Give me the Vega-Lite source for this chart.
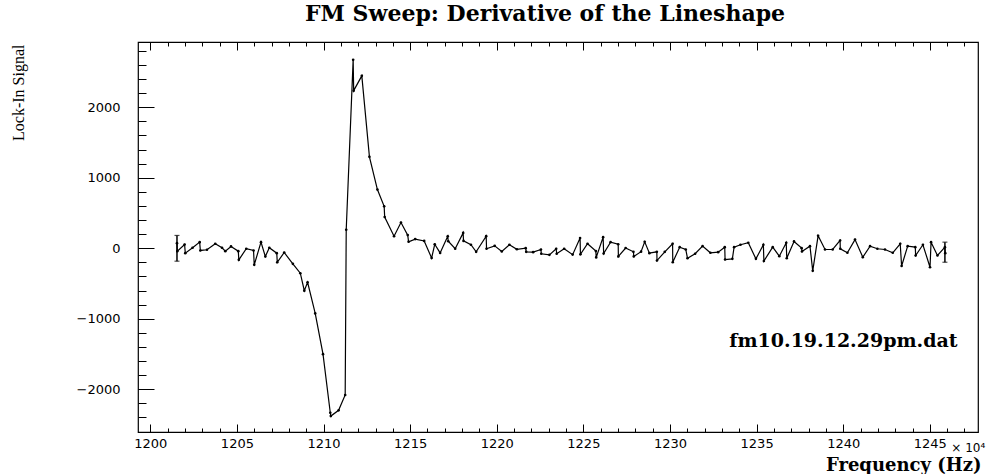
{
  "$schema": "https://vega.github.io/schema/vega-lite/v6.json",
  "width": 840,
  "height": 390,
  "autosize": {"type": "none"},
  "padding": {"left": 138, "top": 42, "right": 8, "bottom": 42},
  "background": "white",
  "title": {"text": "FM Sweep: Derivative of the Lineshape", "font": "DejaVu Serif", "fontSize": 22, "fontWeight": "bold", "color": "black", "anchor": "middle", "offset": 16, "dx": -13},
  "config": {
    "view": {"stroke": "black", "strokeWidth": 1.2},
    "axis": {"grid": false, "domain": false, "tickColor": "black", "tickWidth": 1, "labelColor": "black", "labelFont": "DejaVu Sans", "labelFontSize": 13, "titleColor": "black", "labelOverlap": false, "labelFlush": false, "format": "d"}
  },
  "datasets": {
    "d": [
      {"f": 1201.54, "s": 73, "lo": -183, "hi": 182},
      {"f": 1201.56, "s": -41},
      {"f": 1201.98, "s": 54},
      {"f": 1202.02, "s": -69},
      {"f": 1202.44, "s": 7},
      {"f": 1202.85, "s": 87},
      {"f": 1202.89, "s": -31},
      {"f": 1203.27, "s": -21},
      {"f": 1203.75, "s": 64},
      {"f": 1204.14, "s": 7},
      {"f": 1204.33, "s": -41},
      {"f": 1204.66, "s": 26},
      {"f": 1205.08, "s": -41},
      {"f": 1205.11, "s": -164},
      {"f": 1205.54, "s": -7},
      {"f": 1205.96, "s": -31},
      {"f": 1206.00, "s": -235},
      {"f": 1206.39, "s": 87},
      {"f": 1206.64, "s": -117},
      {"f": 1206.87, "s": 7},
      {"f": 1207.30, "s": -69},
      {"f": 1207.33, "s": -198},
      {"f": 1207.73, "s": -60},
      {"f": 1208.23, "s": -221},
      {"f": 1208.66, "s": -354},
      {"f": 1208.89, "s": -601},
      {"f": 1209.08, "s": -483},
      {"f": 1209.52, "s": -924},
      {"f": 1209.97, "s": -1502},
      {"f": 1210.39, "s": -2333},
      {"f": 1210.42, "s": -2380},
      {"f": 1210.87, "s": -2299},
      {"f": 1211.25, "s": -2081},
      {"f": 1211.31, "s": 263},
      {"f": 1211.71, "s": 2673},
      {"f": 1211.74, "s": 2236},
      {"f": 1212.21, "s": 2446},
      {"f": 1212.65, "s": 1297},
      {"f": 1213.11, "s": 833},
      {"f": 1213.50, "s": 595},
      {"f": 1213.53, "s": 443},
      {"f": 1214.07, "s": 172},
      {"f": 1214.47, "s": 365},
      {"f": 1214.86, "s": 187},
      {"f": 1214.91, "s": 92},
      {"f": 1215.29, "s": 130},
      {"f": 1215.81, "s": 104},
      {"f": 1216.24, "s": -138},
      {"f": 1216.42, "s": 57},
      {"f": 1216.73, "s": -66},
      {"f": 1217.17, "s": 170},
      {"f": 1217.20, "s": 100},
      {"f": 1217.60, "s": -7},
      {"f": 1218.06, "s": 218},
      {"f": 1218.08, "s": 105},
      {"f": 1218.51, "s": 50},
      {"f": 1218.81, "s": -50},
      {"f": 1219.39, "s": 172},
      {"f": 1219.41, "s": -7},
      {"f": 1219.88, "s": 35},
      {"f": 1220.29, "s": -45},
      {"f": 1220.73, "s": 50},
      {"f": 1221.16, "s": -14},
      {"f": 1221.67, "s": 2},
      {"f": 1221.70, "s": -50},
      {"f": 1222.10, "s": -55},
      {"f": 1222.55, "s": -17},
      {"f": 1222.57, "s": -78},
      {"f": 1223.04, "s": -93},
      {"f": 1223.43, "s": -7},
      {"f": 1223.46, "s": -78},
      {"f": 1223.89, "s": -7},
      {"f": 1224.38, "s": -90},
      {"f": 1224.81, "s": 146},
      {"f": 1224.83, "s": -85},
      {"f": 1225.24, "s": 64},
      {"f": 1225.72, "s": -40},
      {"f": 1225.74, "s": -130},
      {"f": 1226.14, "s": 158},
      {"f": 1226.17, "s": -74},
      {"f": 1226.57, "s": 87},
      {"f": 1227.01, "s": 57},
      {"f": 1227.02, "s": -115},
      {"f": 1227.44, "s": 4},
      {"f": 1227.89, "s": -50},
      {"f": 1227.91, "s": -115},
      {"f": 1228.33, "s": -48},
      {"f": 1228.54, "s": 92},
      {"f": 1228.81, "s": -69},
      {"f": 1229.24, "s": -50},
      {"f": 1229.25, "s": -174},
      {"f": 1229.70, "s": -50},
      {"f": 1230.15, "s": 64},
      {"f": 1230.16, "s": -198},
      {"f": 1230.56, "s": 16},
      {"f": 1230.91, "s": -17},
      {"f": 1231.01, "s": -141},
      {"f": 1231.45, "s": -78},
      {"f": 1231.88, "s": 30},
      {"f": 1232.33, "s": -64},
      {"f": 1232.78, "s": -55},
      {"f": 1233.16, "s": 16},
      {"f": 1233.18, "s": -159},
      {"f": 1233.60, "s": -150},
      {"f": 1233.70, "s": 16},
      {"f": 1234.07, "s": 50},
      {"f": 1234.52, "s": 78},
      {"f": 1234.96, "s": -150},
      {"f": 1235.39, "s": 50},
      {"f": 1235.42, "s": -180},
      {"f": 1235.93, "s": 16},
      {"f": 1236.31, "s": -112},
      {"f": 1236.71, "s": 78},
      {"f": 1236.74, "s": -141},
      {"f": 1237.16, "s": 97},
      {"f": 1237.60, "s": 2},
      {"f": 1237.62, "s": -45},
      {"f": 1238.08, "s": 30},
      {"f": 1238.24, "s": -320},
      {"f": 1238.55, "s": 177},
      {"f": 1238.95, "s": -17},
      {"f": 1239.39, "s": -17},
      {"f": 1239.82, "s": 111},
      {"f": 1239.83, "s": -7},
      {"f": 1240.24, "s": -64},
      {"f": 1240.68, "s": 123},
      {"f": 1241.13, "s": -126},
      {"f": 1241.55, "s": 30},
      {"f": 1241.97, "s": -7},
      {"f": 1242.41, "s": -17},
      {"f": 1242.86, "s": -64},
      {"f": 1243.29, "s": 64},
      {"f": 1243.37, "s": -252},
      {"f": 1243.72, "s": 30},
      {"f": 1244.16, "s": 16},
      {"f": 1244.18, "s": -102},
      {"f": 1244.60, "s": 50},
      {"f": 1245.01, "s": -269},
      {"f": 1245.07, "s": 87},
      {"f": 1245.44, "s": -102},
      {"f": 1245.87, "s": 16, "lo": -198, "hi": 87},
      {"f": 1245.89, "s": -69}
    ]
  },
  "data": {"name": "d"},
  "layer": [
    {
      "mark": {"type": "line", "color": "black", "strokeWidth": 1.2},
      "encoding": {
        "x": {"field": "f", "type": "quantitative", "scale": {"domain": [1199.29, 1247.78], "nice": false, "zero": false},
          "axis": {"orient": "bottom", "values": [1200, 1205, 1210, 1215, 1220, 1225, 1230, 1235, 1240, 1245], "tickSize": -8, "labelPadding": 13,
            "title": "Frequency (Hz)", "titleFont": "DejaVu Serif", "titleFontWeight": "bold", "titleFontSize": 18, "titleAnchor": "end", "titleAlign": "right", "titleX": 843, "titleY": 38, "titleBaseline": "alphabetic"}},
        "y": {"field": "s", "type": "quantitative", "scale": {"domain": [-2606, 2926], "nice": false, "zero": false},
          "axis": {"orient": "left", "values": [-2000, -1000, 0, 1000, 2000], "tickSize": -16, "labelPadding": 34,
            "title": "Lock-In Signal", "titleFont": "Liberation Serif", "titleFontWeight": "normal", "titleFontSize": 16, "titleAngle": -90, "titleAlign": "right", "titleBaseline": "middle", "titleX": -120, "titleY": 2}}
      }
    },
    {
      "mark": {"type": "point", "filled": true, "color": "black", "size": 7, "opacity": 1},
      "encoding": {
        "x": {"field": "f", "type": "quantitative", "scale": {"domain": [1199.29, 1247.78], "nice": false, "zero": false},
          "axis": {"orient": "bottom", "values": [1200, 1201, 1202, 1203, 1204, 1205, 1206, 1207, 1208, 1209, 1210, 1211, 1212, 1213, 1214, 1215, 1216, 1217, 1218, 1219, 1220, 1221, 1222, 1223, 1224, 1225, 1226, 1227, 1228, 1229, 1230, 1231, 1232, 1233, 1234, 1235, 1236, 1237, 1238, 1239, 1240, 1241, 1242, 1243, 1244, 1245, 1246, 1247], "tickSize": -4, "labels": false, "title": null}},
        "y": {"field": "s", "type": "quantitative", "scale": {"domain": [-2606, 2926], "nice": false, "zero": false},
          "axis": {"orient": "left", "values": [-2600, -2400, -2200, -2000, -1800, -1600, -1400, -1200, -1000, -800, -600, -400, -200, 0, 200, 400, 600, 800, 1000, 1200, 1400, 1600, 1800, 2000, 2200, 2400, 2600, 2800], "tickSize": -8, "labels": false, "title": null}}
      }
    },
    {
      "transform": [{"filter": "isValid(datum.lo)"}],
      "mark": {"type": "rule", "color": "black", "strokeWidth": 1.5},
      "encoding": {
        "x": {"field": "f", "type": "quantitative", "scale": {"domain": [1199.29, 1247.78], "nice": false, "zero": false},
          "axis": {"orient": "top", "values": [1200, 1205, 1210, 1215, 1220, 1225, 1230, 1235, 1240, 1245], "tickSize": -8, "labels": false, "title": null}},
        "y": {"field": "lo", "type": "quantitative", "scale": {"domain": [-2606, 2926], "nice": false, "zero": false}, "axis": null},
        "y2": {"field": "hi"}
      }
    },
    {
      "transform": [{"filter": "isValid(datum.lo)"}],
      "mark": {"type": "tick", "color": "black", "orient": "horizontal", "size": 5, "thickness": 1.2},
      "encoding": {
        "x": {"field": "f", "type": "quantitative", "scale": {"domain": [1199.29, 1247.78], "nice": false, "zero": false},
          "axis": {"orient": "top", "values": [1200, 1201, 1202, 1203, 1204, 1205, 1206, 1207, 1208, 1209, 1210, 1211, 1212, 1213, 1214, 1215, 1216, 1217, 1218, 1219, 1220, 1221, 1222, 1223, 1224, 1225, 1226, 1227, 1228, 1229, 1230, 1231, 1232, 1233, 1234, 1235, 1236, 1237, 1238, 1239, 1240, 1241, 1242, 1243, 1244, 1245, 1246, 1247], "tickSize": -4, "labels": false, "title": null}},
        "y": {"field": "lo", "type": "quantitative", "scale": {"domain": [-2606, 2926], "nice": false, "zero": false}, "axis": null}
      }
    },
    {
      "transform": [{"filter": "isValid(datum.hi)"}],
      "mark": {"type": "tick", "color": "black", "orient": "horizontal", "size": 5, "thickness": 1.2},
      "encoding": {
        "x": {"field": "f", "type": "quantitative", "scale": {"domain": [1199.29, 1247.78], "nice": false, "zero": false}, "axis": null},
        "y": {"field": "hi", "type": "quantitative", "scale": {"domain": [-2606, 2926], "nice": false, "zero": false}, "axis": null}
      }
    },
    {
      "data": {"values": [{}]},
      "mark": {"type": "text", "font": "DejaVu Serif", "fontWeight": "bold", "fontSize": 19, "align": "right", "baseline": "alphabetic", "color": "black"},
      "encoding": {
        "x": {"datum": 1246.6, "type": "quantitative", "scale": {"domain": [1199.29, 1247.78], "nice": false, "zero": false}, "axis": null},
        "y": {"datum": -1398, "type": "quantitative", "scale": {"domain": [-2606, 2926], "nice": false, "zero": false}, "axis": null},
        "text": {"value": "fm10.19.12.29pm.dat"}
      }
    },
    {
      "data": {"values": [{}]},
      "mark": {"type": "text", "font": "DejaVu Sans", "fontSize": 12, "align": "right", "baseline": "alphabetic", "color": "black"},
      "encoding": {
        "x": {"datum": 1248.2, "type": "quantitative", "scale": {"domain": [1199.29, 1247.78], "nice": false, "zero": false}, "axis": null},
        "y": {"datum": -2895, "type": "quantitative", "scale": {"domain": [-2606, 2926], "nice": false, "zero": false}, "axis": null},
        "text": {"value": "× 10⁴"}
      }
    }
  ],
  "resolve": {"axis": {"x": "independent", "y": "independent"}}
}
